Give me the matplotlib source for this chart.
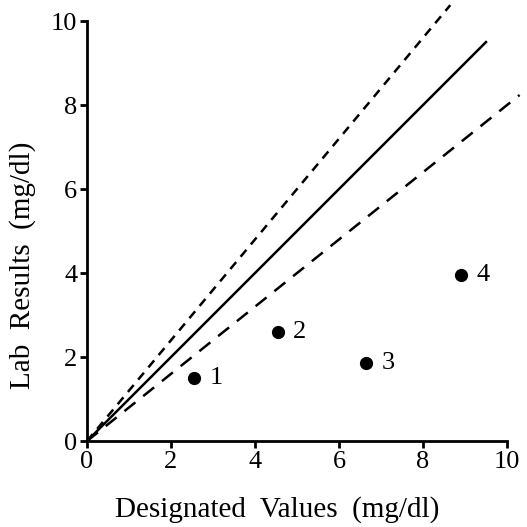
import numpy as np
import matplotlib.pyplot as plt

# sample results
designated = [2.55, 4.55, 6.65, 8.9]
lab = [1.5, 2.6, 1.85, 3.95]
labels = ['1', '2', '3', '4']

# identity line and +/-20% limits
ident_x = [0, 9.5]
upper_slope = 1.2
upper_x = [0, 8.65]
lower_slope = 0.8
lower_x = [0, 10.3]

plt.rcParams['font.family'] = ['Liberation Serif', 'DejaVu Serif']

fig = plt.figure(figsize=(5.27, 5.27), dpi=100)
ax = fig.add_axes([0.165, 0.163, 0.797, 0.797])

ax.plot(ident_x, ident_x, color='black', lw=1.8, clip_on=False)
ax.plot(upper_x, [upper_slope * v for v in upper_x], color='black', lw=1.8,
        dashes=(3.6, 2.8), clip_on=False)
ax.plot(lower_x, [lower_slope * v for v in lower_x], color='black', lw=1.8,
        dashes=(5.6, 4), clip_on=False)

ax.plot(designated, lab, 'o', color='black', ms=8.5, clip_on=False)
for x, y, t in zip(designated, lab, labels):
    ax.annotate(t, (x, y), xytext=(11, 0), textcoords='offset points',
                ha='left', va='center', fontsize=19)

ax.set_xlim(0, 10)
ax.set_ylim(0, 10)
ax.set_xticks([0, 2, 4, 6, 8, 10])
ax.set_yticks([0, 2, 4, 6, 8, 10])
for s in ['top', 'right']:
    ax.spines[s].set_visible(False)
for s in ['left', 'bottom']:
    ax.spines[s].set_linewidth(2)
ax.tick_params(direction='out', length=5, width=2, labelsize=19, pad=2)

ax.set_xlabel('Designated  Values  (mg/dl)', fontsize=21)
ax.set_ylabel('Lab  Results  (mg/dl)', fontsize=21)
ax.xaxis.set_label_coords(0.452, -0.132)
ax.yaxis.set_label_coords(-0.122, 0.419)

fig.savefig('out.png', dpi=100)
